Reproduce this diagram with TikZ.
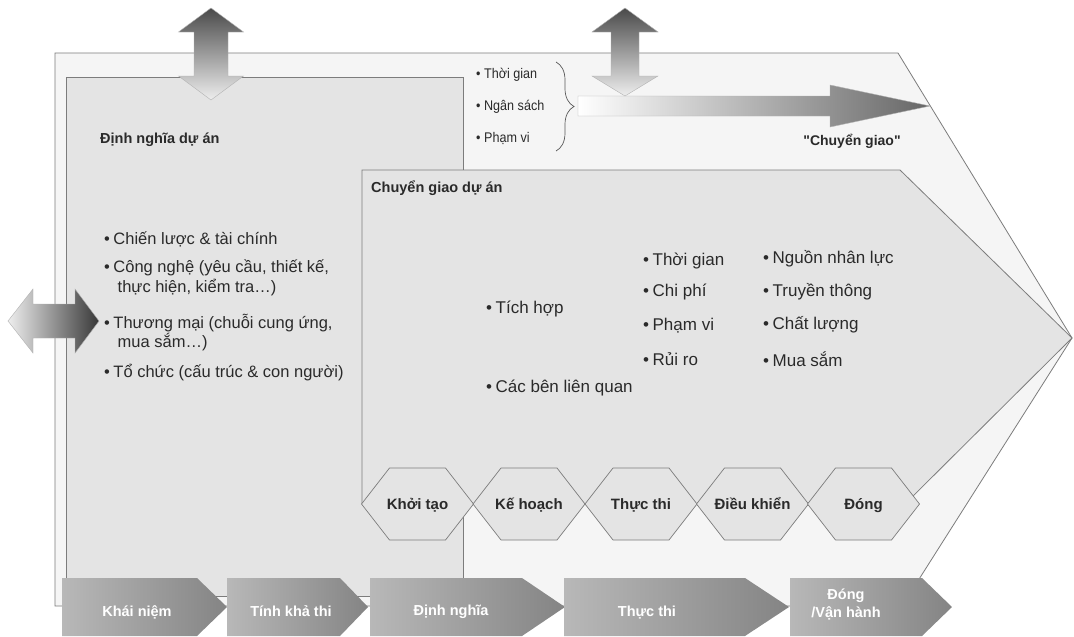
\documentclass[tikz,border=0pt]{standalone}
\usepackage{fontspec}
\setmainfont{Liberation Sans}[Ligatures=TeXOff]
\newfontfamily\narrowsans[FakeStretch=0.9,Ligatures=TeXOff]{Liberation Sans}
\usetikzlibrary{decorations.pathreplacing}
\definecolor{bgfill}{HTML}{F5F5F5}
\definecolor{boxfill}{HTML}{E4E4E4}
\definecolor{edgecol}{HTML}{7C7C7C}
\definecolor{txtcol}{HTML}{2A2A2A}
\definecolor{arrdark}{HTML}{4A4A4A}
\definecolor{arrlight}{HTML}{EEEEEE}
\definecolor{chevlight}{HTML}{B8B8B8}
\definecolor{chevdark}{HTML}{848484}
\newcommand{\pxsize}[1]{\fontsize{#1}{#1}\selectfont}
\newcommand{\bul}{•\hspace{3.5pt}}
\tikzset{
  panel/.style={draw=edgecol, line width=0.8pt, line join=miter},
  hexbox/.style={draw=edgecol, line width=0.7pt, fill=boxfill},
  bigarrow/.style={draw=black!30, line width=0.4pt},
  chevbox/.style={left color=chevlight, right color=chevdark, draw=none},
  heading/.style={anchor=west, inner sep=0pt, text=txtcol, font=\bfseries\pxsize{14.5}},
  leftitem/.style={anchor=west, inner sep=0pt, text=txtcol, font=\pxsize{16.5}},
  miditem/.style={anchor=west, inner sep=0pt, text=txtcol, font=\pxsize{17}},
  smallitem/.style={anchor=west, inner sep=0pt, text=txtcol, font=\narrowsans\pxsize{14}},
  hexlabel/.style={anchor=base, inner sep=0pt, text=txtcol, font=\bfseries\pxsize{15}},
  chevlabel/.style={anchor=base, inner sep=0pt, text=white, font=\bfseries\pxsize{14.5}},
  bracestyle/.style={draw=black!65, line width=0.7pt, decorate, decoration={brace, amplitude=18pt}}
}
\begin{document}
\begin{tikzpicture}[x=1pt,y=-1pt]
\useasboundingbox (0,0) rectangle (1074,637);
\fill[white] (0,0) rectangle (1074,637);
% outer shape
\draw[panel, fill=bgfill] (55,53) -- (898,53) -- (1072,338) -- (902,606) -- (55,606) -- cycle;
% project definition box
\draw[panel, fill=boxfill] (66,77) rectangle (463,596);
% horizontal delivery arrow
\shade[bigarrow, left color=white, right color=black!60]
  (578,96) -- (830,96) -- (830,85) -- (930,106) -- (830,127) -- (830,116) -- (578,116) -- cycle;
% project delivery chevron
\fill[boxfill] (362,504) -- (362,170) -- (900,170) -- (1072,338) -- (905,504) -- cycle;
\draw[panel] (362,504) -- (362,170) -- (900,170) -- (1072,338) -- (905,504);
% hexagons
\foreach \cx/\t [count=\i] in {417.5/Khởi tạo, 529/Kế hoạch, 641/Thực thi, 752.5/Điều khiển, 863.5/Đóng}{
  \draw[hexbox] (\cx-56,504) -- (\cx-28,468) -- (\cx+28,468) -- (\cx+56,504) -- (\cx+28,540) -- (\cx-28,540) -- cycle;
  \node[hexlabel] (hex\i) at (\cx,509.5) {\t};
}
% bottom chevrons
\foreach \a/\b/\c/\tx/\ty/\t [count=\i] in {62/197/227/137/616/Khái niệm, 227/340/368/291/616/Tính khả thi, 370/522/565/451/615.5/Định nghĩa, 564/745/789/647/616.5/Thực thi}{
  \shade[chevbox] (\a,578) -- (\b,578) -- (\c,607) -- (\b,636) -- (\a,636) -- cycle;
  \node[chevlabel] (phase\i) at (\tx,\ty) {\t};
}
\shade[chevbox] (790,578) -- (922,578) -- (952,607) -- (922,636) -- (790,636) -- cycle;
\node[inner sep=0pt, text=white, font=\bfseries\fontsize{14.5}{18}\selectfont, align=center] (phase5) at (846,604) {Đóng\\/Vận hành};
% double arrows
\shade[bigarrow, top color=arrdark, bottom color=arrlight]
  (211,8) -- (243.5,32) -- (228,32) -- (228,76) -- (243.5,76) -- (211,100) -- (178.5,76) -- (194,76) -- (194,32) -- (178.5,32) -- cycle;
\shade[bigarrow, top color=arrdark, bottom color=arrlight]
  (625,8) -- (658,32) -- (639,32) -- (639,76) -- (658,76) -- (625,96) -- (592,76) -- (611,76) -- (611,32) -- (592,32) -- cycle;
\shade[bigarrow, left color=arrlight, right color=black!78]
  (8,321) -- (33,289) -- (33,304) -- (75,304) -- (75,289) -- (99,321) -- (75,353) -- (75,338) -- (33,338) -- (33,353) -- cycle;
% brace and small items
\draw[bracestyle] (556,62) -- (556,151);
\node[smallitem] (s1) at (476,75) {\bul Thời gian};
\node[smallitem] (s2) at (476,107) {\bul Ngân sách};
\node[smallitem] (s3) at (476,138) {\bul Phạm vi};
\node[inner sep=0pt, text=txtcol, font=\bfseries\pxsize{14}] (deliv) at (852,141) {"Chuyển giao"};
% headings
\node[heading] (defhead) at (100,140) {Định nghĩa dự án};
\node[heading] (delhead) at (371,188) {Chuyển giao dự án};
% left items
\node[leftitem] (l1) at (104,239) {\bul Chiến lược \& tài chính};
\node[leftitem] (l2) at (104,268) {\bul Công nghệ (yêu cầu, thiết kế,};
\node[leftitem] (l2b) at (117.5,288) {thực hiện, kiểm tra…)};
\node[leftitem] (l3) at (104,323) {\bul Thương mại (chuỗi cung ứng,};
\node[leftitem] (l3b) at (117.5,342) {mua sắm…)};
\node[leftitem] (l4) at (104,373) {\bul Tổ chức (cấu trúc \& con người)};
% middle items
\node[miditem] (m1) at (486,309) {\bul Tích hợp};
\node[miditem] (m2) at (486,388) {\bul Các bên liên quan};
\node[miditem] (c1) at (643,261) {\bul Thời gian};
\node[miditem] (c2) at (643,292) {\bul Chi phí};
\node[miditem] (c3) at (643,326) {\bul Phạm vi};
\node[miditem] (c4) at (643,359) {\bul Rủi ro};
\node[miditem] (r1) at (763,259) {\bul Nguồn nhân lực};
\node[miditem] (r2) at (763,292) {\bul Truyền thông};
\node[miditem] (r3) at (763,325) {\bul Chất lượng};
\node[miditem] (r4) at (763,359) {\bul Mua sắm};
\end{tikzpicture}
\end{document}
